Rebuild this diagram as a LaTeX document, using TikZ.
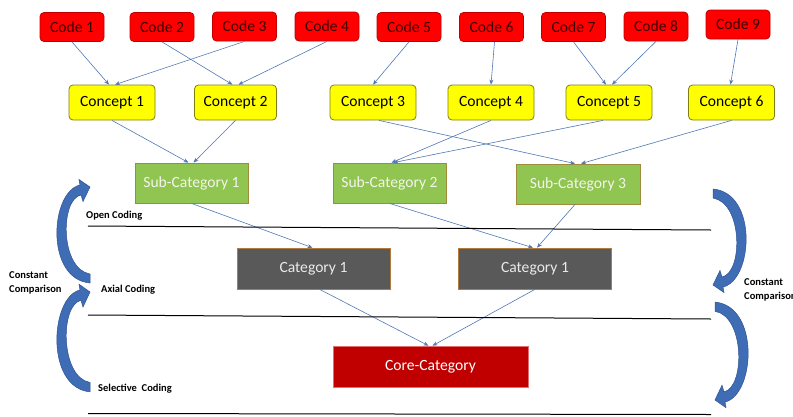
\documentclass[tikz,border=0pt]{standalone}
\usepackage{fontspec}
\setmainfont{Carlito}
\usetikzlibrary{arrows.meta}
\definecolor{codefill}{HTML}{FF0000}
\definecolor{codeedge}{HTML}{C00000}
\definecolor{codetext}{HTML}{3A0000}
\definecolor{conceptfill}{HTML}{FFFF00}
\definecolor{conceptedge}{HTML}{7F7F10}
\definecolor{subfill}{HTML}{8FC550}
\definecolor{subedge}{HTML}{A08A3C}
\definecolor{subtext}{HTML}{F4F4EC}
\definecolor{catfill}{HTML}{595959}
\definecolor{catedge}{HTML}{B07A40}
\definecolor{cattext}{HTML}{EAEAEA}
\definecolor{corefill}{HTML}{C00000}
\definecolor{coreedge}{HTML}{E07070}
\definecolor{conncol}{HTML}{5078B8}
\definecolor{arrowfill}{HTML}{3F6DB5}
\definecolor{arrowedge}{HTML}{2F528F}
\begin{document}
\begin{tikzpicture}[x=1pt,y=-1pt,
  boxfont/.style={font=\fontsize{15.6}{18}\selectfont},
  codebox/.style={boxfont, draw=codeedge, fill=codefill, rounded corners=4pt, minimum width=64pt, minimum height=29pt, inner sep=0pt, text=codetext, line width=0.8pt},
  conceptbox/.style={boxfont, draw=conceptedge, fill=conceptfill, rounded corners=4pt, minimum width=86pt, minimum height=35pt, inner sep=0pt, text=black, line width=0.8pt},
  subbox/.style={boxfont, draw=subedge, fill=subfill, minimum width=113pt, minimum height=40pt, inner sep=0pt, text=subtext, line width=0.8pt},
  catbox/.style={boxfont, draw=catedge, fill=catfill, minimum width=153pt, minimum height=41pt, inner sep=0pt, text=cattext, line width=0.6pt},
  corebox/.style={boxfont, draw=coreedge, fill=corefill, minimum width=195pt, minimum height=41pt, inner sep=0pt, text=white, line width=0.6pt},
  conn/.style={draw=conncol, line width=0.6pt, -{Stealth[length=5pt,width=4pt]}},
  sepline/.style={draw=black, line width=1pt},
  lbl/.style={font=\fontsize{10.5}{13.5}\selectfont\bfseries, inner sep=0pt, text=black},
  ccarrow/.pic={
    \filldraw[fill=arrowfill, draw=arrowedge, line width=0.5pt]
      (0,0) -- (-11,-7.5) -- (-10,-2) .. controls (-40,5) and (-45,92) .. (0,96)
      -- (0,87) .. controls (-30,82) and (-30,12) .. (-9,8) -- (-7,14.5) -- cycle;
  }
]
\useasboundingbox (0,0) rectangle (793,416);
\fill[white] (0,0) rectangle (793,416);

% codes
\node[codebox] (c1) at (72,27) {Code 1};
\node[codebox] (c2) at (162,27) {Code 2};
\node[codebox] (c3) at (244.5,26.5) {Code 3};
\node[codebox] (c4) at (327,26.5) {Code 4};
\node[codebox] (c5) at (409,27) {Code 5};
\node[codebox] (c6) at (491.5,27) {Code 6};
\node[codebox] (c7) at (573.5,27) {Code 7};
\node[codebox] (c8) at (656,26.5) {Code 8};
\node[codebox] (c9) at (738,24.5) {Code 9};

% concepts
\node[conceptbox] (k1) at (112,102.5) {Concept 1};
\node[conceptbox, minimum width=82pt] (k2) at (235.5,102.5) {Concept 2};
\node[conceptbox] (k3) at (373,102.5) {Concept 3};
\node[conceptbox] (k4) at (491,102.5) {Concept 4};
\node[conceptbox] (k5) at (609,102.5) {Concept 5};
\node[conceptbox] (k6) at (731.5,102.5) {Concept 6};

% sub-categories
\node[subbox] (s1) at (191.5,183) {Sub-Category 1};
\node[subbox] (s2) at (389.5,183) {Sub-Category 2};
\node[subbox, minimum width=124pt] (s3) at (578,184) {Sub-Category 3};

% categories
\node[catbox] (g1) at (313.5,268.5) {Category 1};
\node[catbox] (g2) at (535,268.5) {Category 1};

% core
\node[corebox] (core) at (430.5,366.5) {Core-Category};

% connectors code -> concept
\draw[conn] (c1.south) -- ([xshift=-3pt]k1.north);
\draw[conn] (c3.south) -- ([xshift=3pt]k1.north);
\draw[conn] (c2.south) -- ([xshift=-3pt]k2.north);
\draw[conn] (c4.south) -- ([xshift=3pt]k2.north);
\draw[conn] (c5.south) -- (k3.north);
\draw[conn] ([xshift=3pt]c6.south) -- (k4.north);
\draw[conn] (c7.south) -- ([xshift=-3pt]k5.north);
\draw[conn] (c8.south) -- ([xshift=3pt]k5.north);
\draw[conn] (c9.south) -- ([xshift=-1pt]k6.north);

% connectors concept -> sub-category
\draw[conn] (k1.south) -- ([xshift=-3pt]s1.north);
\draw[conn] (k2.south) -- ([xshift=2pt]s1.north);
\draw[conn] ([xshift=6pt]k3.south) -- ([xshift=-3pt]s3.north);
\draw[conn] (k4.south) -- ([xshift=2pt]s2.north);
\draw[conn] ([xshift=-6pt]k5.south) -- ([xshift=4pt]s2.north);
\draw[conn] (k6.south) -- ([xshift=3pt]s3.north);

% connectors sub-category -> category
\draw[conn] (s1.south) -- ([xshift=-1pt]g1.north);
\draw[conn] (s2.south) -- ([xshift=-2pt]g2.north);
\draw[conn] ([xshift=-3pt]s3.south) -- ([xshift=2pt]g2.north);

% connectors category -> core
\draw[conn] ([xshift=6pt]g1.south) -- ([xshift=-2pt]core.north);
\draw[conn] (g2.south) -- ([xshift=2pt]core.north);

% separator lines
\coordinate (l1a) at (88,226); \coordinate (l1b) at (711,230);
\coordinate (l2a) at (88,315); \coordinate (l2b) at (711,319);
\coordinate (l3a) at (88,413.5); \coordinate (l3b) at (711,414.5);
\draw[sepline] (l1a) -- (l1b);
\draw[sepline] (l2a) -- (l2b);
\draw[sepline] (l3a) -- (l3b);

% labels
\node[lbl, anchor=west] (open) at (86,216) {Open Coding};
\node[lbl, anchor=west] (axial) at (101,290) {Axial Coding};
\node[lbl, anchor=west] (sel) at (98,389) {Selective\ \ Coding};
\node[lbl, anchor=west, align=left] (ccl) at (9,283) {Constant\\Comparison};
\node[lbl, anchor=west, align=left] (ccr) at (744,290) {Constant\\Comparison};

% curved arrows
\pic at (90,187) {ccarrow};
\pic[yscale=1.04] at (90,292) {ccarrow};
\pic[rotate=180] at (713,285) {ccarrow};
\pic[rotate=180, yscale=1.02] at (715,400) {ccarrow};
\end{tikzpicture}
\end{document}
